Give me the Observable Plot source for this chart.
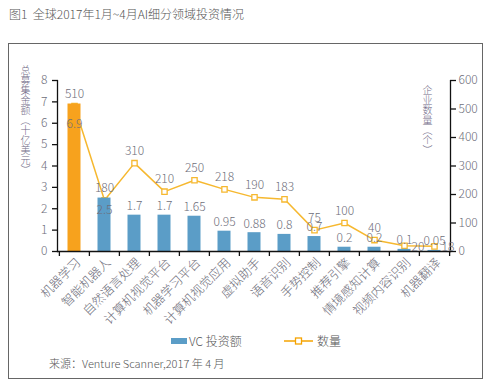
<!DOCTYPE html>
<html><head><meta charset="utf-8">
<script src="https://cdn.jsdelivr.net/npm/d3@7"></script>
<script src="https://cdn.jsdelivr.net/npm/@observablehq/plot@0.6"></script>
<style>
body{margin:0;background:#fff;font-family:"Noto Sans CJK SC","Noto Sans",sans-serif;font-weight:300;}
#wrap{position:relative;width:500px;height:392px;overflow:hidden;background:#fff;}
#title{position:absolute;left:9px;top:5px;font-size:12px;color:#555;white-space:nowrap;}
#frame{position:absolute;left:8px;top:43px;width:473px;height:334px;border:1.5px solid #666;}
#chart{position:absolute;left:0;top:0;}
.vt{position:absolute;writing-mode:vertical-rl;font-size:10px;line-height:12px;color:#6f6a86;white-space:nowrap;}
#legend{position:absolute;top:332px;left:0;width:500px;height:16px;font-size:12px;color:#555;}
#src{position:absolute;left:49px;top:355px;font-size:11px;color:#555;white-space:nowrap;}
svg text{font-weight:300;}
</style></head>
<body>
<div id="wrap">
  <div id="title">图1&nbsp; 全球2017年1月~4月AI细分领域投资情况</div>
  <div id="frame"></div>
  <div id="chart"></div>
  <div class="vt" id="ytl" style="left:19px;top:65px;"></div>
  <div class="vt" id="ytr" style="left:421px;top:85px;"></div>
  <div id="legend"></div>
  <div id="src">来源：Venture Scanner,2017 年 4 月</div>
</div>
<script>
const categories = ["机器学习","智能机器人","自然语言处理","计算机视觉平台","机器学习平台","计算机视觉应用","虚拟助手","语音识别","手势控制","推荐引擎","情境感知计算","视频内容识别","机器翻译"];
const vcValues = [6.9, 2.5, 1.7, 1.7, 1.65, 0.95, 0.88, 0.8, 0.7, 0.2, 0.2, 0.1, 0.05];
const companyCounts = [510, 180, 310, 210, 250, 218, 190, 183, 75, 100, 40, 20, 18];
const leftTicks = [0, 1, 2, 3, 4, 5, 6, 7, 8];
const rightTicks = [0, 100, 200, 300, 400, 500, 600];
const seriesNames = ["VC 投资额", "数量"];
const leftTitle = "总募集金额（十亿美元）";
const rightTitle = "企业数量（个）";

const orange = "#f7a21d", blue = "#5b9dc7", lineColor = "#f6b82f", textColor = "#6e6e7a";
const leftMax = 8, rightMax = 600, k = rightMax / leftMax;

const data = categories.map((c, i) => ({cat: c, vc: vcValues[i], count: companyCounts[i], idx: i}));

const W = 500, mL = 57, mR = 50;
const step = (W - mL - mR) / categories.length;

const chart = Plot.plot({
  width: W, height: 392,
  marginLeft: mL, marginRight: mR, marginTop: 80, marginBottom: 141,
  style: {fontFamily: '"Noto Sans CJK SC","Noto Sans",sans-serif', background: "transparent"},
  x: {type: "band", domain: categories, padding: 0, axis: null},
  y: {domain: [0, leftMax], axis: null},
  marks: [
    Plot.line(data, {x: "cat", y: d => d.count / k, stroke: lineColor, strokeWidth: 1.5}),
    Plot.dot(data, {x: "cat", y: d => d.count / k, symbol: "square", r: 3, stroke: lineColor, strokeWidth: 1.3, fill: "white"}),
    Plot.barY(data, {x: "cat", y: "vc", fill: d => d.idx === 0 ? orange : blue, insetLeft: 8.5, insetRight: 8.5}),
    Plot.frame({anchor: "left", stroke: "#111", strokeWidth: 1.3}),
    Plot.frame({anchor: "right", stroke: "#111", strokeWidth: 1.3}),
    Plot.frame({anchor: "bottom", stroke: "#111", strokeWidth: 1.3}),
    Plot.axisY({ticks: leftTicks, tickSize: 5, tickPadding: 5, fontSize: 12, stroke: "#111", fill: textColor, label: null, strokeWidth: 1.3}),
    Plot.axisY({anchor: "right", ticks: rightTicks.map(v => v / k), tickFormat: d => String(Math.round(d * k)), tickSize: 5, tickPadding: 3, fontSize: 12, stroke: "#111", fill: textColor, label: null, strokeWidth: 1.3}),
    Plot.axisX({tickSize: 5, tickFormat: () => "", dx: -step / 2, stroke: "#111", strokeWidth: 1.3, label: null}),
    Plot.axisX({ticks: [categories[categories.length - 1]], tickSize: 5, tickFormat: () => "", dx: step / 2, stroke: "#111", strokeWidth: 1.3, label: null}),
    Plot.axisX({tickSize: 0, tickPadding: 9, tickRotate: -45, fontSize: 12.5, fill: textColor, label: null, dx: 4}),
    Plot.text(data.filter(d => d.count >= 30), {x: "cat", y: d => d.count / k, text: d => String(d.count), dy: -12, fontSize: 12, fill: textColor}),
    Plot.text(data.filter(d => d.count < 30), {x: "cat", y: d => d.count / k, text: d => String(d.count), dx: 7, dy: 1, textAnchor: "start", fontSize: 12, fill: textColor}),
    Plot.text(data.filter(d => d.vc > 5), {x: "cat", y: "vc", text: d => String(d.vc), dy: 20, fontSize: 12, fill: textColor}),
    Plot.text(data.filter(d => d.vc >= 2 && d.vc <= 5), {x: "cat", y: "vc", text: d => String(d.vc), dy: 12, fontSize: 12, fill: textColor}),
    Plot.text(data.filter(d => d.vc < 2), {x: "cat", y: "vc", text: d => String(d.vc), dy: -9, fontSize: 12, fill: textColor})
  ]
});
document.getElementById("chart").appendChild(chart);

// vertical axis titles
d3.select("#ytl").text(leftTitle);
d3.select("#ytr").text(rightTitle);

// legend
const lg = d3.select("#legend");
const item1 = lg.append("div").style("position", "absolute").style("left", "171px").style("top", "0px").style("display", "flex").style("align-items", "center");
item1.append("svg").attr("width", 16).attr("height", 16).append("rect").attr("x", 0).attr("y", 5).attr("width", 16).attr("height", 6).attr("fill", blue);
item1.append("span").style("margin-left", "2px").text(seriesNames[0]);
const item2 = lg.append("div").style("position", "absolute").style("left", "284px").style("top", "0px").style("display", "flex").style("align-items", "center");
const s2 = item2.append("svg").attr("width", 29).attr("height", 16);
s2.append("line").attr("x1", 0).attr("x2", 29).attr("y1", 8).attr("y2", 8).attr("stroke", "#f5a300").attr("stroke-width", 1.5);
s2.append("rect").attr("x", 11.5).attr("y", 5).attr("width", 6).attr("height", 6).attr("fill", "white").attr("stroke", "#f5a300").attr("stroke-width", 1.3);
item2.append("span").style("margin-left", "4px").text(seriesNames[1]);
</script>
</body></html>
